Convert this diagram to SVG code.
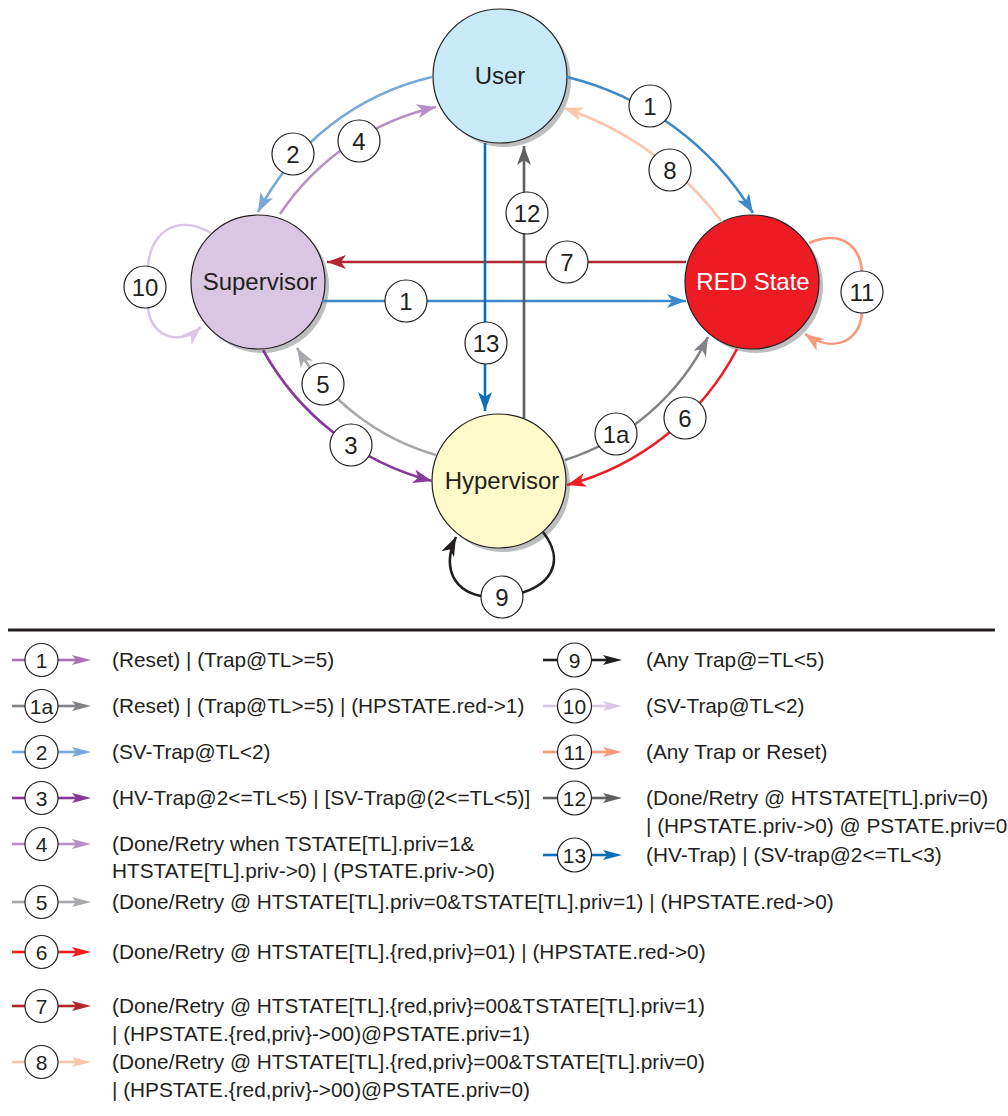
<svg xmlns="http://www.w3.org/2000/svg" width="1008" height="1116" viewBox="0 0 1008 1116">
<style>
  .node { stroke: #231f20; stroke-width: 1.2; }
  .shadow { fill: #bcbec0; }
  .ntext { font-family: "Liberation Sans", Arial, sans-serif; font-size: 24px; fill: #231f20; text-anchor: middle; }
  .edge { fill: none; stroke-width: 2.6; }
  .lbl { fill: #ffffff; stroke: #231f20; stroke-width: 1.2; }
  .ltext { font-family: "Liberation Sans", Arial, sans-serif; font-size: 24px; fill: #231f20; text-anchor: middle; }
  .legline { fill: none; stroke-width: 2.6; }
  .legc { fill: #ffffff; stroke: #231f20; stroke-width: 1.2; }
  .legnum { font-family: "Liberation Sans", Arial, sans-serif; font-size: 21px; fill: #231f20; text-anchor: middle; }
  .legtext { font-family: "Liberation Sans", Arial, sans-serif; font-size: 20.8px; fill: #231f20; }
</style>
<defs>
  <marker id="m-blue" markerUnits="userSpaceOnUse" markerWidth="20" markerHeight="14" refX="19" refY="7" orient="auto"><path d="M0,0 L19,7 L0,14 L5,7 z" fill="#3d88c8"/></marker>
  <marker id="m-blue2" markerUnits="userSpaceOnUse" markerWidth="20" markerHeight="14" refX="19" refY="7" orient="auto"><path d="M0,0 L19,7 L0,14 L5,7 z" fill="#0b6fb8"/></marker>
  <marker id="m-lblue" markerUnits="userSpaceOnUse" markerWidth="20" markerHeight="14" refX="19" refY="7" orient="auto"><path d="M0,0 L19,7 L0,14 L5,7 z" fill="#7aa7db"/></marker>
  <marker id="m-lpurp" markerUnits="userSpaceOnUse" markerWidth="20" markerHeight="14" refX="19" refY="7" orient="auto"><path d="M0,0 L19,7 L0,14 L5,7 z" fill="#b68fc4"/></marker>
  <marker id="m-purp" markerUnits="userSpaceOnUse" markerWidth="20" markerHeight="14" refX="19" refY="7" orient="auto"><path d="M0,0 L19,7 L0,14 L5,7 z" fill="#87399a"/></marker>
  <marker id="m-grey5" markerUnits="userSpaceOnUse" markerWidth="20" markerHeight="14" refX="19" refY="7" orient="auto"><path d="M0,0 L19,7 L0,14 L5,7 z" fill="#a6a8ab"/></marker>
  <marker id="m-grey1a" markerUnits="userSpaceOnUse" markerWidth="20" markerHeight="14" refX="19" refY="7" orient="auto"><path d="M0,0 L19,7 L0,14 L5,7 z" fill="#808285"/></marker>
  <marker id="m-grey12" markerUnits="userSpaceOnUse" markerWidth="20" markerHeight="14" refX="19" refY="7" orient="auto"><path d="M0,0 L19,7 L0,14 L5,7 z" fill="#5e5f61"/></marker>
  <marker id="m-red" markerUnits="userSpaceOnUse" markerWidth="20" markerHeight="14" refX="19" refY="7" orient="auto"><path d="M0,0 L19,7 L0,14 L5,7 z" fill="#ee1c25"/></marker>
  <marker id="m-dred" markerUnits="userSpaceOnUse" markerWidth="20" markerHeight="14" refX="19" refY="7" orient="auto"><path d="M0,0 L19,7 L0,14 L5,7 z" fill="#b0272d"/></marker>
  <marker id="m-peach" markerUnits="userSpaceOnUse" markerWidth="20" markerHeight="14" refX="19" refY="7" orient="auto"><path d="M0,0 L19,7 L0,14 L5,7 z" fill="#fac5ad"/></marker>
  <marker id="m-lav" markerUnits="userSpaceOnUse" markerWidth="20" markerHeight="14" refX="19" refY="7" orient="auto"><path d="M0,0 L19,7 L0,14 L5,7 z" fill="#d9c7e3"/></marker>
  <marker id="m-salmon" markerUnits="userSpaceOnUse" markerWidth="20" markerHeight="14" refX="19" refY="7" orient="auto"><path d="M0,0 L19,7 L0,14 L5,7 z" fill="#f69879"/></marker>
  <marker id="m-black" markerUnits="userSpaceOnUse" markerWidth="20" markerHeight="14" refX="19" refY="7" orient="auto"><path d="M0,0 L19,7 L0,14 L5,7 z" fill="#231f20"/></marker>
</defs>
<rect width="1008" height="1116" fill="#ffffff"/>

<g id="node-user">
  <circle class="shadow" cx="504" cy="80" r="67"/>
  <circle class="node" cx="500" cy="76" r="67" fill="#c8e9f8"/>
  <text class="ntext" x="500" y="84">User</text>
</g>
<g id="node-supervisor">
  <circle class="shadow" cx="262" cy="286" r="67"/>
  <circle class="node" cx="258" cy="282" r="67" fill="#d9c6e2"/>
  <text class="ntext" x="260" y="290">Supervisor</text>
</g>
<g id="node-red">
  <circle class="shadow" cx="756" cy="286" r="67"/>
  <circle class="node" cx="752" cy="282" r="67" fill="#ed1c24"/>
  <text class="ntext" x="753" y="290" style="fill:#ffffff">RED State</text>
</g>
<g id="node-hypervisor">
  <circle class="shadow" cx="503" cy="485" r="67"/>
  <circle class="node" cx="499" cy="481" r="67" fill="#fef9c8"/>
  <text class="ntext" x="502" y="489">Hypervisor</text>
</g>

<g id="connectors">
  <path class="edge" stroke="#7aa7db" d="M432,77 A263,263 0 0,0 258,212" marker-end="url(#m-lblue)"/>
  <path class="edge" stroke="#b68fc4" d="M280,214 A255,255 0 0,1 436,107" marker-end="url(#m-lpurp)"/>
  <path class="edge" stroke="#3d88c8" d="M567,77 A302,302 0 0,1 753,213" marker-end="url(#m-blue)"/>
  <path class="edge" stroke="#fac5ad" d="M722,222 A330,330 0 0,0 564,108" marker-end="url(#m-peach)"/>
  <path class="edge" stroke="#b0272d" d="M686,262 L327,262" marker-end="url(#m-dred)"/>
  <path class="edge" stroke="#3d88c8" d="M322,301 L686,301" marker-end="url(#m-blue)"/>
  <path class="edge" stroke="#0b6fb8" d="M485,143 L485,411" marker-end="url(#m-blue2)"/>
  <path class="edge" stroke="#5e5f61" d="M524,418 L524,146" marker-end="url(#m-grey12)"/>
  <path class="edge" stroke="#d9c7e3" d="M211,233 C175,212 148,235 148,270 L148,305 C148,335 178,348 201,327" marker-end="url(#m-lav)"/>
  <path class="edge" stroke="#f69879" d="M809,243 C845,228 862,250 862,275 L862,310 C862,340 835,355 805,334" marker-end="url(#m-salmon)"/>
  <path class="edge" stroke="#a6a8ab" d="M436,455 A238,238 0 0,1 297,348" marker-end="url(#m-grey5)"/>
  <path class="edge" stroke="#87399a" d="M263,350 A270,270 0 0,0 432,481" marker-end="url(#m-purp)"/>
  <path class="edge" stroke="#808285" d="M565,460 A240,240 0 0,0 708,337" marker-end="url(#m-grey1a)"/>
  <path class="edge" stroke="#ee1c25" d="M737,349 A270,270 0 0,1 567,485" marker-end="url(#m-red)"/>
  <path class="edge" stroke="#231f20" d="M543,532 C565,560 555,590 502,597 C455,600 440,570 456,537" marker-end="url(#m-black)"/>

  <g id="edge-labels">
    <circle class="lbl" cx="293" cy="154" r="21"/><text class="ltext" x="293" y="162.5">2</text>
    <circle class="lbl" cx="359" cy="141" r="21"/><text class="ltext" x="359" y="149.5">4</text>
    <circle class="lbl" cx="650" cy="106" r="21"/><text class="ltext" x="650" y="114.5">1</text>
    <circle class="lbl" cx="670" cy="170" r="21"/><text class="ltext" x="670" y="178.5">8</text>
    <circle class="lbl" cx="527" cy="213" r="21"/><text class="ltext" x="527" y="221.5">12</text>
    <circle class="lbl" cx="567" cy="262" r="21"/><text class="ltext" x="567" y="270.5">7</text>
    <circle class="lbl" cx="145" cy="287" r="21"/><text class="ltext" x="145" y="295.5">10</text>
    <circle class="lbl" cx="406" cy="301" r="21"/><text class="ltext" x="406" y="309.5">1</text>
    <circle class="lbl" cx="862" cy="292" r="21"/><text class="ltext" x="862" y="300.5">11</text>
    <circle class="lbl" cx="486" cy="343" r="21"/><text class="ltext" x="486" y="351.5">13</text>
    <circle class="lbl" cx="323" cy="384" r="21"/><text class="ltext" x="323" y="392.5">5</text>
    <circle class="lbl" cx="351" cy="445" r="21"/><text class="ltext" x="351" y="453.5">3</text>
    <circle class="lbl" cx="616" cy="434" r="21"/><text class="ltext" x="616" y="442.5">1a</text>
    <circle class="lbl" cx="685" cy="418" r="21"/><text class="ltext" x="685" y="426.5">6</text>
    <circle class="lbl" cx="502" cy="597" r="21"/><text class="ltext" x="502" y="605.5">9</text>
  </g>
</g>

<line x1="8" y1="630" x2="995" y2="630" stroke="#231f20" stroke-width="3"/>

<g id="legend">
  <!-- left column -->
  <g stroke="#a874b3"><line class="legline" x1="12" y1="660" x2="25" y2="660"/><line class="legline" x1="58" y1="660" x2="76" y2="660"/></g>
  <path d="M72,655 L91,660 L72,665 L76,660 z" fill="#a874b3"/>
  <circle class="legc" cx="41.5" cy="660" r="16.5"/><text class="legnum" x="41.5" y="667.5">1</text>
  <text class="legtext" x="112" y="667">(Reset) | (Trap@TL&gt;=5)</text>

  <g stroke="#808285"><line class="legline" x1="12" y1="706" x2="25" y2="706"/><line class="legline" x1="58" y1="706" x2="76" y2="706"/></g>
  <path d="M72,701 L91,706 L72,711 L76,706 z" fill="#808285"/>
  <circle class="legc" cx="41.5" cy="706" r="16.5"/><text class="legnum" x="41.5" y="713.5">1a</text>
  <text class="legtext" x="112" y="713">(Reset) | (Trap@TL&gt;=5) | (HPSTATE.red-&gt;1)</text>

  <g stroke="#7aa7db"><line class="legline" x1="12" y1="752" x2="25" y2="752"/><line class="legline" x1="58" y1="752" x2="76" y2="752"/></g>
  <path d="M72,747 L91,752 L72,757 L76,752 z" fill="#7aa7db"/>
  <circle class="legc" cx="41.5" cy="752" r="16.5"/><text class="legnum" x="41.5" y="759.5">2</text>
  <text class="legtext" x="112" y="759">(SV-Trap@TL&lt;2)</text>

  <g stroke="#87399a"><line class="legline" x1="12" y1="798" x2="25" y2="798"/><line class="legline" x1="58" y1="798" x2="76" y2="798"/></g>
  <path d="M72,793 L91,798 L72,803 L76,798 z" fill="#87399a"/>
  <circle class="legc" cx="41.5" cy="798" r="16.5"/><text class="legnum" x="41.5" y="805.5">3</text>
  <text class="legtext" x="112" y="805">(HV-Trap@2&lt;=TL&lt;5) | [SV-Trap@(2&lt;=TL&lt;5)]</text>

  <g stroke="#b68fc4"><line class="legline" x1="12" y1="844" x2="25" y2="844"/><line class="legline" x1="58" y1="844" x2="76" y2="844"/></g>
  <path d="M72,839 L91,844 L72,849 L76,844 z" fill="#b68fc4"/>
  <circle class="legc" cx="41.5" cy="844" r="16.5"/><text class="legnum" x="41.5" y="851.5">4</text>
  <text class="legtext" x="112" y="851">(Done/Retry when TSTATE[TL].priv=1&amp;</text>
  <text class="legtext" x="112" y="878">HTSTATE[TL].priv-&gt;0) | (PSTATE.priv-&gt;0)</text>

  <g stroke="#a6a8ab"><line class="legline" x1="12" y1="902" x2="25" y2="902"/><line class="legline" x1="58" y1="902" x2="76" y2="902"/></g>
  <path d="M72,897 L91,902 L72,907 L76,902 z" fill="#a6a8ab"/>
  <circle class="legc" cx="41.5" cy="902" r="16.5"/><text class="legnum" x="41.5" y="909.5">5</text>
  <text class="legtext" x="112" y="909">(Done/Retry @ HTSTATE[TL].priv=0&amp;TSTATE[TL].priv=1) | (HPSTATE.red-&gt;0)</text>

  <g stroke="#ee1c25"><line class="legline" x1="12" y1="952" x2="25" y2="952"/><line class="legline" x1="58" y1="952" x2="76" y2="952"/></g>
  <path d="M72,947 L91,952 L72,957 L76,952 z" fill="#ee1c25"/>
  <circle class="legc" cx="41.5" cy="952" r="16.5"/><text class="legnum" x="41.5" y="959.5">6</text>
  <text class="legtext" x="112" y="959">(Done/Retry @ HTSTATE[TL].{red,priv}=01) | (HPSTATE.red-&gt;0)</text>

  <g stroke="#b0272d"><line class="legline" x1="12" y1="1006" x2="25" y2="1006"/><line class="legline" x1="58" y1="1006" x2="76" y2="1006"/></g>
  <path d="M72,1001 L91,1006 L72,1011 L76,1006 z" fill="#b0272d"/>
  <circle class="legc" cx="41.5" cy="1006" r="16.5"/><text class="legnum" x="41.5" y="1013.5">7</text>
  <text class="legtext" x="112" y="1013">(Done/Retry @ HTSTATE[TL].{red,priv}=00&amp;TSTATE[TL].priv=1)</text>
  <text class="legtext" x="112" y="1041">| (HPSTATE.{red,priv}-&gt;00)@PSTATE.priv=1)</text>

  <g stroke="#fac5ad"><line class="legline" x1="12" y1="1062" x2="25" y2="1062"/><line class="legline" x1="58" y1="1062" x2="76" y2="1062"/></g>
  <path d="M72,1057 L91,1062 L72,1067 L76,1062 z" fill="#fac5ad"/>
  <circle class="legc" cx="41.5" cy="1062" r="16.5"/><text class="legnum" x="41.5" y="1069.5">8</text>
  <text class="legtext" x="112" y="1069">(Done/Retry @ HTSTATE[TL].{red,priv}=00&amp;TSTATE[TL].priv=0)</text>
  <text class="legtext" x="112" y="1097">| (HPSTATE.{red,priv}-&gt;00)@PSTATE.priv=0)</text>

  <!-- right column -->
  <g stroke="#231f20"><line class="legline" x1="543" y1="660" x2="557" y2="660"/><line class="legline" x1="591" y1="660" x2="607" y2="660"/></g>
  <path d="M603,655 L622,660 L603,665 L607,660 z" fill="#231f20"/>
  <circle class="legc" cx="574.5" cy="660" r="17"/><text class="legnum" x="574.5" y="667.5">9</text>
  <text class="legtext" x="646" y="667">(Any Trap@=TL&lt;5)</text>

  <g stroke="#d9c7e3"><line class="legline" x1="543" y1="706" x2="557" y2="706"/><line class="legline" x1="591" y1="706" x2="607" y2="706"/></g>
  <path d="M603,701 L622,706 L603,711 L607,706 z" fill="#d9c7e3"/>
  <circle class="legc" cx="574.5" cy="706" r="17"/><text class="legnum" x="574.5" y="713.5">10</text>
  <text class="legtext" x="646" y="713">(SV-Trap@TL&lt;2)</text>

  <g stroke="#f69879"><line class="legline" x1="543" y1="752" x2="557" y2="752"/><line class="legline" x1="591" y1="752" x2="607" y2="752"/></g>
  <path d="M603,747 L622,752 L603,757 L607,752 z" fill="#f69879"/>
  <circle class="legc" cx="574.5" cy="752" r="17"/><text class="legnum" x="574.5" y="759.5">11</text>
  <text class="legtext" x="646" y="759">(Any Trap or Reset)</text>

  <g stroke="#5e5f61"><line class="legline" x1="543" y1="798" x2="557" y2="798"/><line class="legline" x1="591" y1="798" x2="607" y2="798"/></g>
  <path d="M603,793 L622,798 L603,803 L607,798 z" fill="#5e5f61"/>
  <circle class="legc" cx="574.5" cy="798" r="17"/><text class="legnum" x="574.5" y="805.5">12</text>
  <text class="legtext" x="646" y="805">(Done/Retry @ HTSTATE[TL].priv=0)</text>
  <text class="legtext" x="646" y="833">| (HPSTATE.priv-&gt;0) @ PSTATE.priv=0</text>

  <g stroke="#0b6fb8"><line class="legline" x1="543" y1="855" x2="557" y2="855"/><line class="legline" x1="591" y1="855" x2="607" y2="855"/></g>
  <path d="M603,850 L622,855 L603,860 L607,855 z" fill="#0b6fb8"/>
  <circle class="legc" cx="574.5" cy="855" r="17"/><text class="legnum" x="574.5" y="862.5">13</text>
  <text class="legtext" x="646" y="862">(HV-Trap) | (SV-trap@2&lt;=TL&lt;3)</text>
</g>
</svg>
